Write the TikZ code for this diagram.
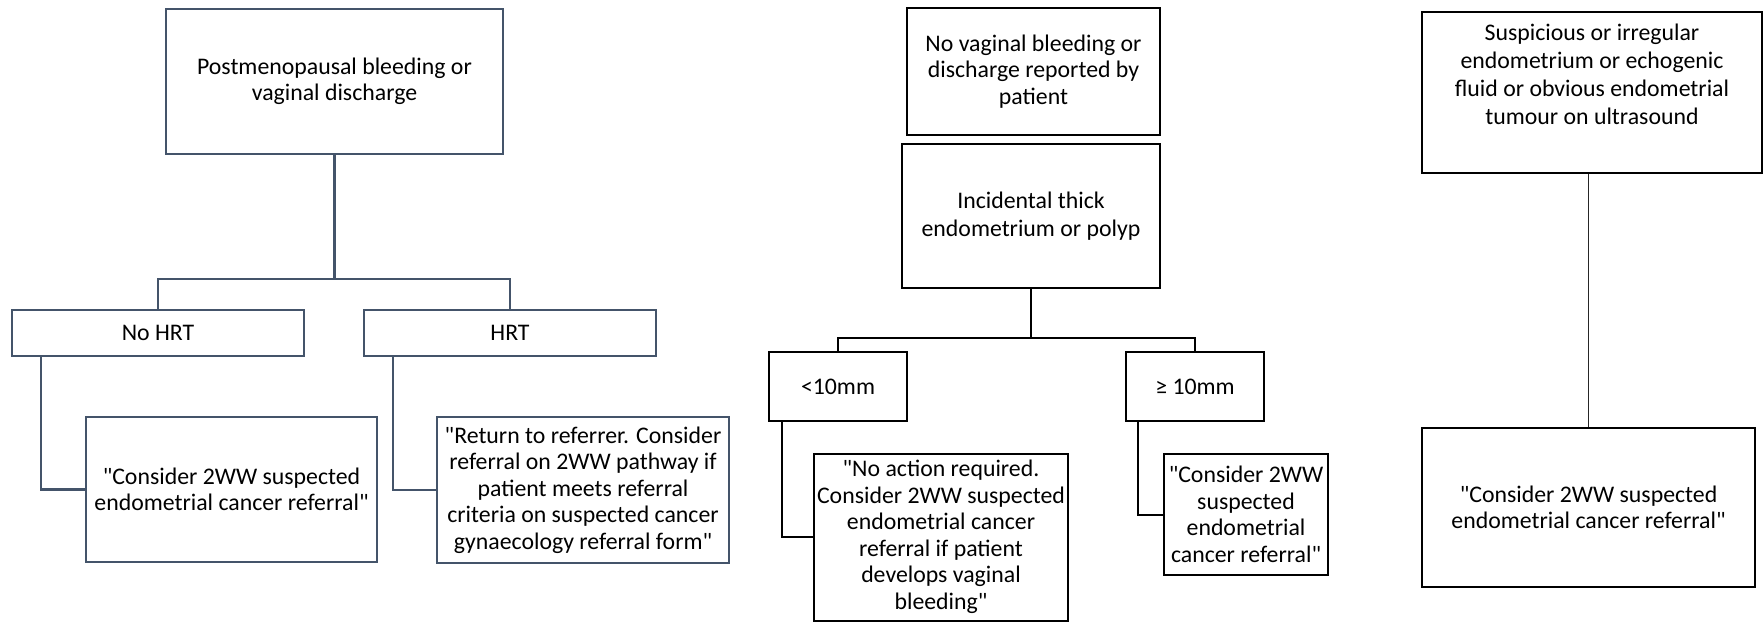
\documentclass[tikz,border=0pt]{standalone}
\usepackage{fontspec}
\setmainfont{Carlito}
\definecolor{slate}{HTML}{44546A}
\newcommand\sq{\textquotedbl{}}
\begin{document}
\begin{tikzpicture}[x=1pt,y=-1pt,
  every node/.style={font=\fontsize{23.8}{26.5}\selectfont, align=center, inner sep=0pt, text=black},
  lbox/.style={draw=slate, line width=2.5pt},
  bbox/.style={draw=black, line width=2pt},
  lline/.style={draw=slate, line width=2.5pt},
  bline/.style={draw=black, line width=2pt},
  tline/.style={draw=black!85, line width=1pt},
  wide/.style={font=\fontsize{23.8}{28}\selectfont}]
\useasboundingbox (0,0) rectangle (1764,622);

% ---------- left group ----------
\node[lbox, minimum width=337pt, minimum height=145pt] (A) at (334.5,81.5)
  {Postmenopausal bleeding or\\vaginal discharge};
\node[lbox, minimum width=292pt, minimum height=46pt] (noh) at (158,333) {No HRT};
\node[lbox, minimum width=292pt, minimum height=46pt] (hrt) at (510,333) {HRT};
\node[lbox, minimum width=291pt, minimum height=145pt] (L1) at (231.5,489.5)
  {\sq Consider 2WW suspected\\endometrial cancer referral\sq};
\node[lbox, minimum width=292pt, minimum height=146pt] (L2) at (583,490)
  {\sq Return to referrer. Consider\\referral on 2WW pathway if\\patient meets referral\\criteria on suspected cancer\\gynaecology referral form\sq};
\coordinate (jL) at (334.5,279);
\draw[lline] (A.south) -- (jL);
\draw[lline] (noh.north) |- (jL) -| (hrt.north);
\draw[lline] ([xshift=30pt]noh.south west) |- (L1.west);
\draw[lline] ([xshift=30pt]hrt.south west) |- (L2.west);

% ---------- middle group ----------
\node[bbox, minimum width=253pt, minimum height=127pt] (M1) at (1033.5,71.5)
  {No vaginal bleeding or\\discharge reported by\\patient};
\node[bbox, minimum width=258pt, minimum height=144pt, wide] (M2) at (1031,216)
  {Incidental thick\\endometrium or polyp};
\node[bbox, minimum width=138pt, minimum height=69pt] (M3) at (838,386.5) {<10mm};
\node[bbox, minimum width=138pt, minimum height=69pt] (M4) at (1195,386.5) {≥ 10mm};
\node[bbox, minimum width=254pt, minimum height=167pt] (M5) at (941,537)
  {\sq No action required.\\Consider 2WW suspected\\endometrial cancer\\referral if patient\\develops vaginal\\bleeding\sq};
\node[bbox, minimum width=164pt, minimum height=121pt] (M6) at (1246,514.5)
  {\sq Consider 2WW\\suspected\\endometrial\\cancer referral\sq};
\coordinate (jM) at (1031,338);
\draw[bline] (M2.south) -- (jM);
\draw[bline] (M3.north) |- (jM) -| (M4.north);
\draw[bline] ([xshift=14pt]M3.south west) |- (M5.west);
\draw[bline] ([xshift=13pt]M4.south west) |- (M6.west);

% ---------- right group ----------
\node[bbox, minimum width=340pt, minimum height=161pt] (R1) at (1592,92.5) {};
\node[wide] (R1t) at (1592,74)
  {Suspicious or irregular\\endometrium or echogenic\\fluid or obvious endometrial\\tumour on ultrasound};
\node[bbox, minimum width=333pt, minimum height=159pt] (R2) at (1588.5,507.5)
  {\sq Consider 2WW suspected\\endometrial cancer referral\sq};
\draw[tline] (R2.north) -- (R2.north |- R1.south);
\end{tikzpicture}
\end{document}
